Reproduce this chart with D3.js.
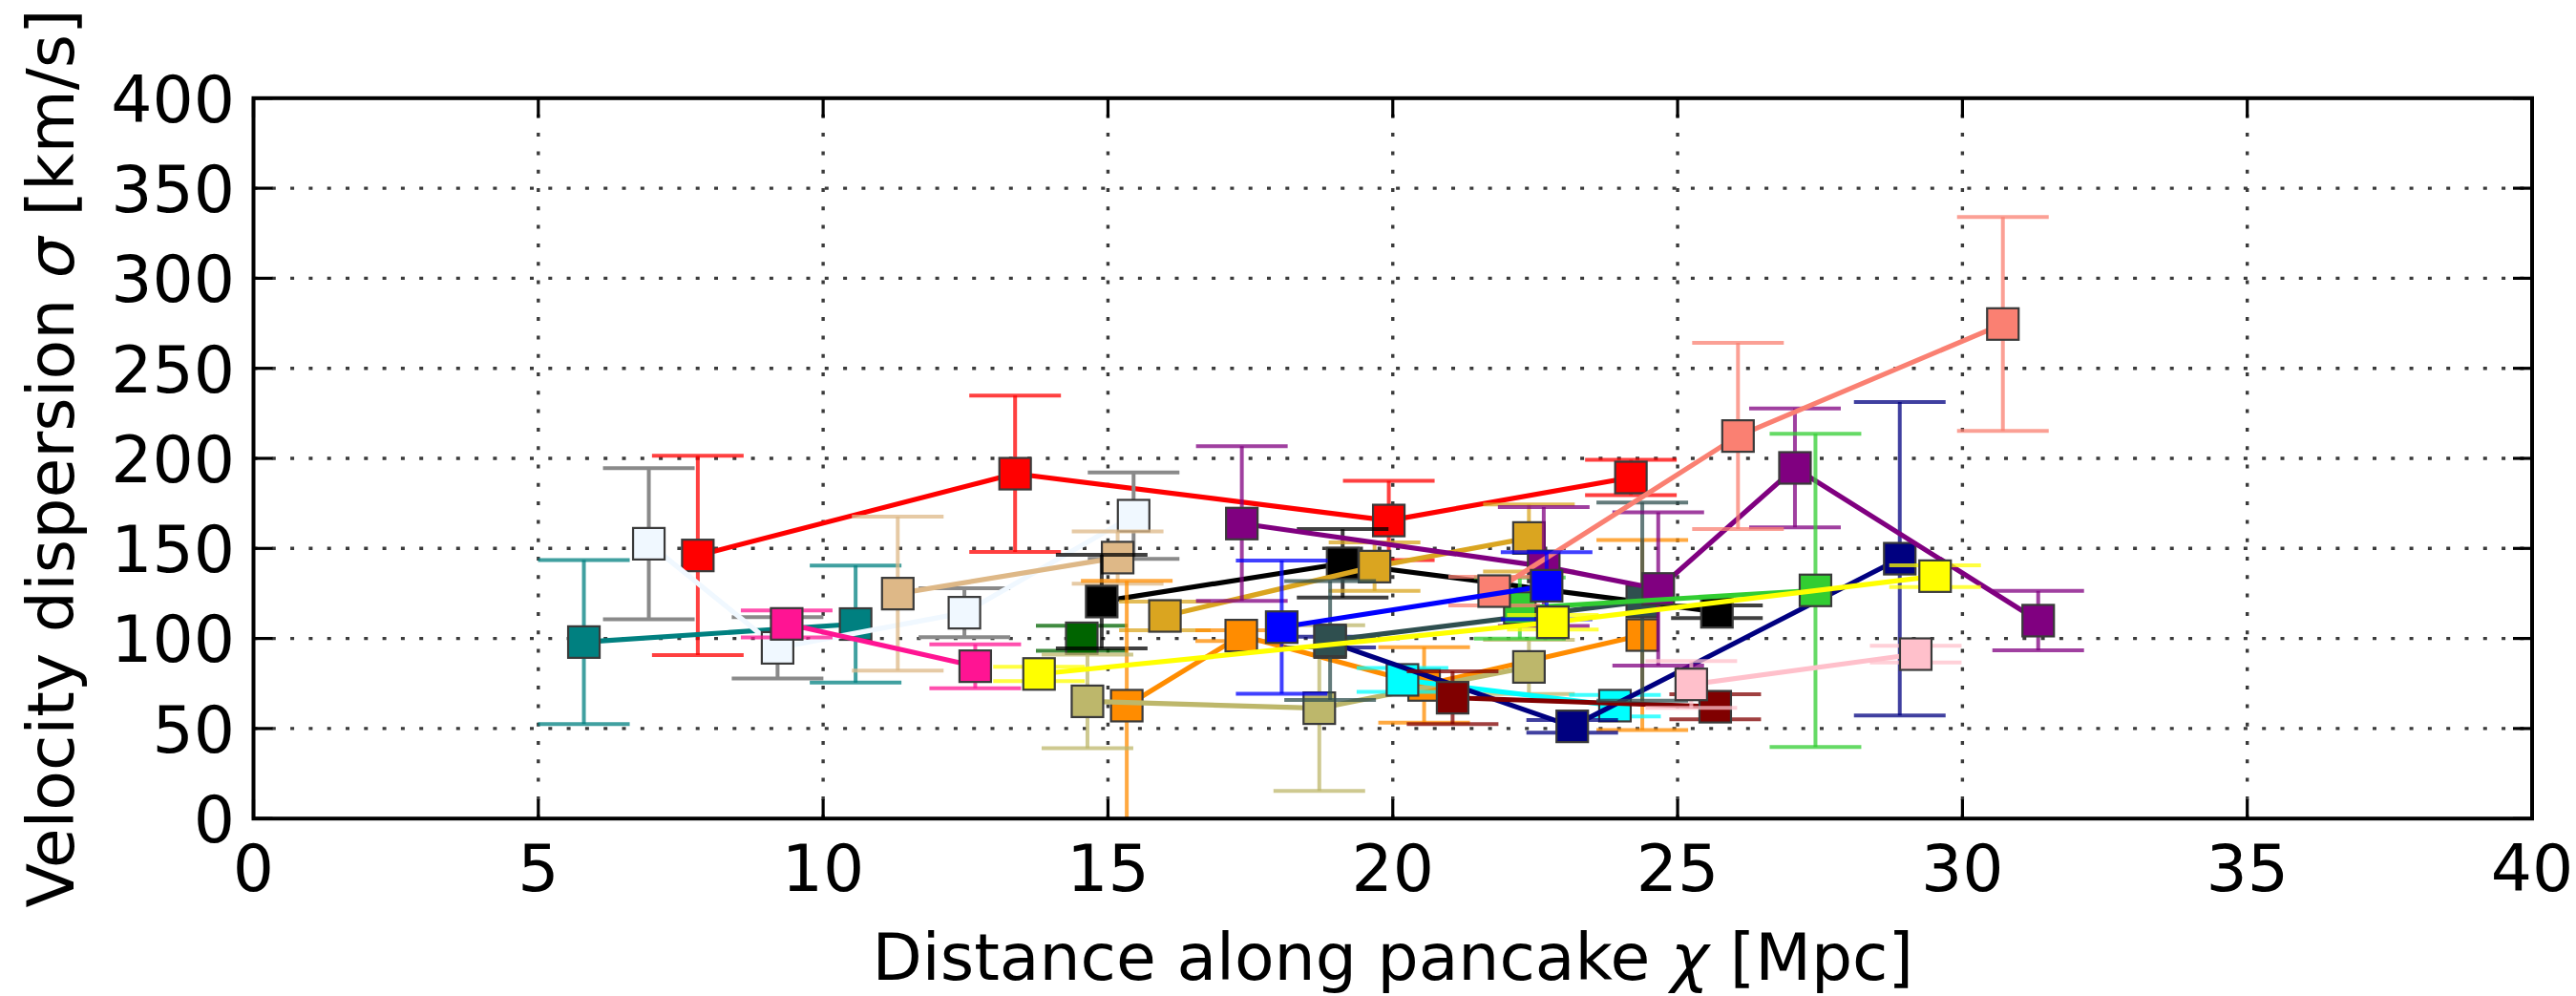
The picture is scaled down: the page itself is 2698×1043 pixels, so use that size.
<!DOCTYPE html>
<html>
<head>
<meta charset="utf-8">
<script src="https://cdn.jsdelivr.net/npm/d3@7"></script>
<style>
  body { margin: 0; background: #fff; }
  svg { display: block; }
  text { font-family: "DejaVu Sans", sans-serif; fill: #000; }
</style>
</head>
<body>
<svg id="chart" width="2698" height="1043"></svg>
<script>
// Tick values
const xTicks = [0, 5, 10, 15, 20, 25, 30, 35, 40];
const yTicks = [0, 50, 100, 150, 200, 250, 300, 350, 400];

// Velocity dispersion profiles: distance chi [Mpc], sigma [km/s], 1-sigma error [km/s]
const red_x = [7.80, 13.37, 19.93, 24.18];
const red_y = [146.1, 191.5, 165.5, 189.4];
const red_e = [55.3, 43.4, 22.0, 9.8];

const teal_x = [5.80, 10.57];
const teal_y = [98.0, 108.0];
const teal_e = [45.5, 32.5];

const alice_x = [6.94, 9.20, 12.48, 15.45];
const alice_y = [152.6, 94.8, 114.3, 168.2];
const alice_e = [42.0, 17.0, 13.6, 24.0];

const burly_x = [11.31, 15.17];
const burly_y = [124.9, 144.9];
const burly_e = [42.7, 14.5];

const dpink_x = [9.36, 12.67];
const dpink_y = [108.1, 84.6];
const dpink_e = [7.5, 12.2];

const dgreen_x = [14.54];
const dgreen_y = [100.1];
const dgreen_e = [7.0];

const black_x = [14.89, 19.12, 25.69];
const black_y = [120.5, 141.7, 114.8];
const black_e = [26.0, 19.0, 3.5];

const gold_x = [16.00, 19.68, 22.39];
const gold_y = [112.5, 139.9, 155.8];
const gold_e = [8.0, 13.5, 18.6];

const dorange_x = [15.33, 17.34, 20.55, 24.38];
const dorange_y = [62.7, 101.6, 74.2, 101.9];
const dorange_e = [69.3, 3.0, 21.0, 52.7];

const khaki_x = [14.64, 18.71, 22.39];
const khaki_y = [65.1, 61.3, 84.2];
const khaki_e = [26.0, 46.0, 15.0];

const cyan_x = [20.17, 23.90];
const cyan_y = [77.0, 62.7];
const cyan_e = [6.6, 6.0];

const navy_x = [18.90, 23.15, 28.90];
const navy_y = [98.0, 51.2, 144.3];
const navy_e = [3.0, 3.5, 87.0];

const maroon_x = [21.05, 25.66];
const maroon_y = [67.1, 62.1];
const maroon_e = [14.7, 7.0];

const dslate_x = [18.90, 24.38];
const dslate_y = [98.9, 120.5];
const dslate_e = [33.0, 55.0];

const purple_x = [17.35, 22.65, 24.66, 27.06, 31.33];
const purple_y = [163.8, 140.0, 127.5, 194.7, 109.9];
const purple_e = [43.0, 33.0, 42.5, 33.0, 16.5];

const lime_x = [22.23, 27.42];
const lime_y = [116.9, 126.7];
const lime_e = [17.0, 87.0];

const salmon_x = [21.78, 26.06, 30.71];
const salmon_y = [126.3, 212.4, 274.6];
const salmon_e = [8.0, 51.7, 59.4];

const blue_x = [18.05, 22.70];
const blue_y = [106.3, 129.3];
const blue_e = [37.0, 18.6];

const pink_x = [25.24, 29.18];
const pink_y = [74.5, 91.3];
const pink_e = [13.0, 4.6];

const yellow_x = [13.79, 22.81, 29.52];
const yellow_y = [80.3, 109.0, 134.6];
const yellow_e = [4.0, 4.0, 6.0];

// Drawing order (later series sit on top), with line and error-bar colours
const series = [
  { x: red_x, y: red_y, e: red_e, color: "#ff0000" },
  { x: teal_x, y: teal_y, e: teal_e, color: "#008080" },
  { x: alice_x, y: alice_y, e: alice_e, color: "#f0f8ff", ecolor: "#8a8a8a" },
  { x: burly_x, y: burly_y, e: burly_e, color: "#deb887" },
  { x: dpink_x, y: dpink_y, e: dpink_e, color: "#ff1493" },
  { x: dgreen_x, y: dgreen_y, e: dgreen_e, color: "#006400" },
  { x: black_x, y: black_y, e: black_e, color: "#000000" },
  { x: gold_x, y: gold_y, e: gold_e, color: "#daa520" },
  { x: dorange_x, y: dorange_y, e: dorange_e, color: "#ff8c00" },
  { x: khaki_x, y: khaki_y, e: khaki_e, color: "#bdb76b" },
  { x: cyan_x, y: cyan_y, e: cyan_e, color: "#00ffff" },
  { x: navy_x, y: navy_y, e: navy_e, color: "#000080" },
  { x: maroon_x, y: maroon_y, e: maroon_e, color: "#800000" },
  { x: dslate_x, y: dslate_y, e: dslate_e, color: "#2f4f4f" },
  { x: purple_x, y: purple_y, e: purple_e, color: "#800080" },
  { x: lime_x, y: lime_y, e: lime_e, color: "#32cd32" },
  { x: salmon_x, y: salmon_y, e: salmon_e, color: "#fa8072" },
  { x: blue_x, y: blue_y, e: blue_e, color: "#0000ff" },
  { x: pink_x, y: pink_y, e: pink_e, color: "#ffc0cb" },
  { x: yellow_x, y: yellow_y, e: yellow_e, color: "#ffff00" }
];

const plot = { left: 265.5, right: 2652, top: 102.8, bottom: 857.2 };

const svg = d3.select("#chart");
const x = d3.scaleLinear().domain([0, 40]).range([plot.left, plot.right]);
const y = d3.scaleLinear().domain([0, 400]).range([plot.bottom, plot.top]);

svg.append("defs").append("clipPath").attr("id", "plotclip")
  .append("rect")
  .attr("x", plot.left).attr("y", plot.top)
  .attr("width", plot.right - plot.left).attr("height", plot.bottom - plot.top);

// Dotted grid
const grid = svg.append("g").attr("stroke", "#1a1a1a").attr("stroke-width", 3.4)
  .attr("stroke-dasharray", "4,15.3").attr("opacity", 0.85);
grid.selectAll("line.gx").data(xTicks.slice(1, -1)).join("line")
  .attr("x1", d => x(d)).attr("x2", d => x(d))
  .attr("y1", plot.bottom).attr("y2", plot.top);
grid.selectAll("line.gy").data(yTicks.slice(1, -1)).join("line")
  .attr("y1", d => y(d)).attr("y2", d => y(d))
  .attr("x1", plot.left).attr("x2", plot.right);

// Series: error bars, connecting line, square markers
const data = svg.append("g").attr("clip-path", "url(#plotclip)");
const capHalf = 48, markerSide = 33;
const lineGen = d3.line().x(d => x(d[0])).y(d => y(d[1]));

series.forEach(s => {
  const pts = s.x.map((xv, i) => [xv, s.y[i], s.e[i]]);
  const g = data.append("g");
  const eg = g.append("g")
    .attr("stroke", s.ecolor || s.color)
    .attr("stroke-opacity", s.ecolor ? 1 : 0.75)
    .attr("stroke-width", 4);
  pts.forEach(p => {
    const cx = x(p[0]), y1 = y(p[1] + p[2]), y0 = y(p[1] - p[2]);
    eg.append("line").attr("x1", cx).attr("x2", cx).attr("y1", y1).attr("y2", y0);
    eg.append("line").attr("x1", cx - capHalf).attr("x2", cx + capHalf).attr("y1", y1).attr("y2", y1);
    eg.append("line").attr("x1", cx - capHalf).attr("x2", cx + capHalf).attr("y1", y0).attr("y2", y0);
  });
  if (pts.length > 1) {
    g.append("path").datum(pts).attr("d", lineGen)
      .attr("fill", "none").attr("stroke", s.color)
      .attr("stroke-width", 5.2).attr("stroke-linejoin", "round");
  }
  g.selectAll("rect").data(pts).join("rect")
    .attr("x", d => x(d[0]) - markerSide / 2)
    .attr("y", d => y(d[1]) - markerSide / 2)
    .attr("width", markerSide).attr("height", markerSide)
    .attr("fill", s.color)
    .attr("stroke", "#3a3a3a").attr("stroke-width", 2.2);
});

// Inward ticks on all four sides
const tickLen = 20;
const ticks = svg.append("g").attr("stroke", "#000").attr("stroke-width", 3.2);
xTicks.forEach(t => {
  ticks.append("line").attr("x1", x(t)).attr("x2", x(t)).attr("y1", plot.bottom).attr("y2", plot.bottom - tickLen);
  ticks.append("line").attr("x1", x(t)).attr("x2", x(t)).attr("y1", plot.top).attr("y2", plot.top + tickLen);
});
yTicks.forEach(t => {
  ticks.append("line").attr("y1", y(t)).attr("y2", y(t)).attr("x1", plot.left).attr("x2", plot.left + tickLen);
  ticks.append("line").attr("y1", y(t)).attr("y2", y(t)).attr("x1", plot.right).attr("x2", plot.right - tickLen);
});

// Frame
svg.append("rect")
  .attr("x", plot.left).attr("y", plot.top)
  .attr("width", plot.right - plot.left).attr("height", plot.bottom - plot.top)
  .attr("fill", "none").attr("stroke", "#000").attr("stroke-width", 4);

// Tick labels
const fs = 68;
svg.append("g").selectAll("text").data(xTicks).join("text")
  .attr("x", d => x(d)).attr("y", 933)
  .attr("text-anchor", "middle").attr("font-size", fs)
  .text(d => d);
svg.append("g").selectAll("text").data(yTicks).join("text")
  .attr("x", 246).attr("y", d => y(d)).attr("dy", "0.365em")
  .attr("text-anchor", "end").attr("font-size", fs)
  .text(d => d);

// Axis titles
const xl = svg.append("text")
  .attr("x", (plot.left + plot.right) / 2).attr("y", 1026)
  .attr("text-anchor", "middle").attr("font-size", fs);
xl.append("tspan").text("Distance along pancake ");
xl.append("tspan").attr("font-style", "italic").text("χ");
xl.append("tspan").text(" [Mpc]");

const yl = svg.append("text")
  .attr("transform", `translate(77,${(plot.top + plot.bottom) / 2}) rotate(-90)`)
  .attr("text-anchor", "middle").attr("font-size", fs);
yl.append("tspan").text("Velocity dispersion ");
yl.append("tspan").attr("font-style", "italic").text("σ");
yl.append("tspan").text(" [km/s]");
</script>
</body>
</html>
